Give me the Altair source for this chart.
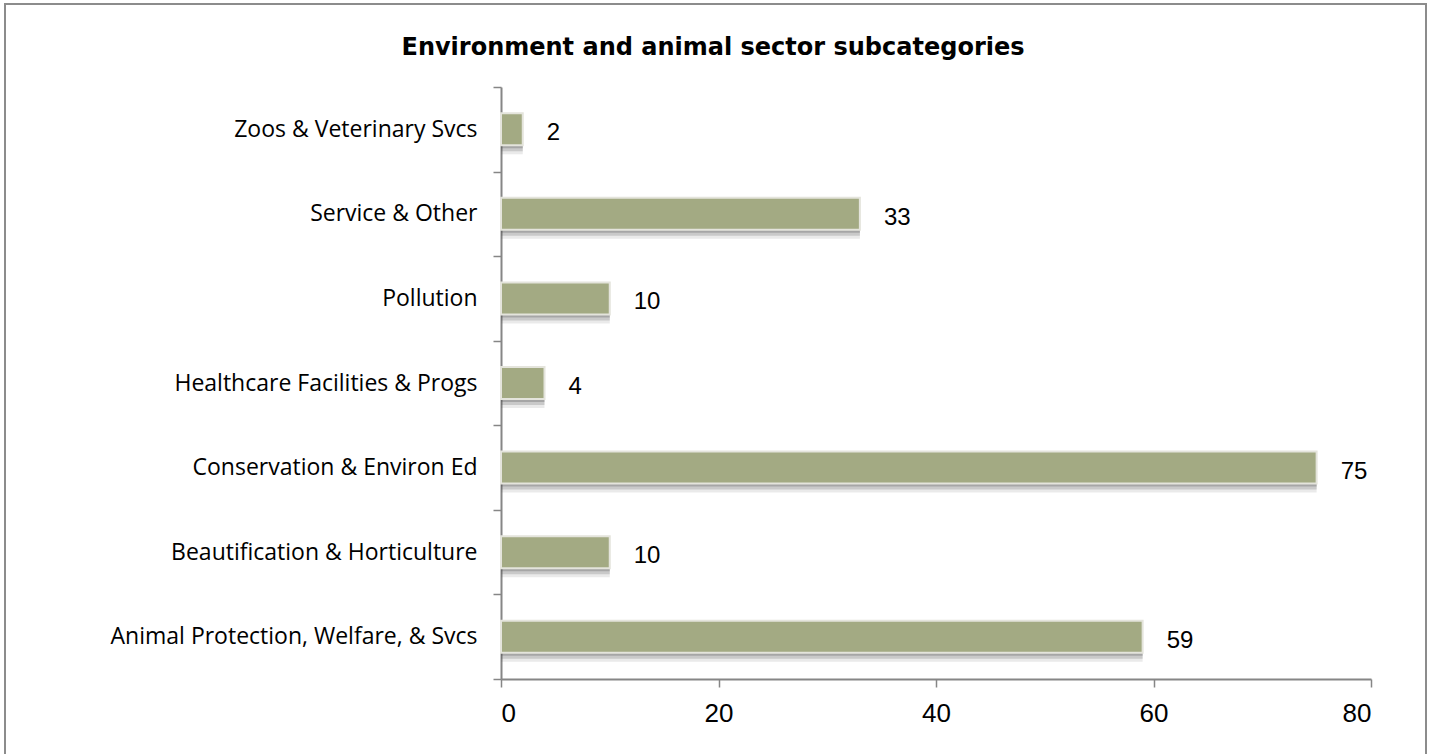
import altair as alt
import pandas as pd

categories = [
    "Zoos & Veterinary Svcs",
    "Service & Other",
    "Pollution",
    "Healthcare Facilities & Progs",
    "Conservation & Environ Ed",
    "Beautification & Horticulture",
    "Animal Protection, Welfare, & Svcs",
]
values = [2, 33, 10, 4, 75, 10, 59]
x_ticks = [0, 20, 40, 60, 80]
title_text = "Environment and animal sector subcategories"

df = pd.DataFrame({"category": categories, "value": values})

W, H = 870, 592
LEFT, TOP = 501, 87

y_enc = alt.Y(
    "category:N",
    sort=categories,
    scale=alt.Scale(paddingInner=0, paddingOuter=0),
    axis=alt.Axis(
        title=None,
        tickBand="extent",
        tickSize=8,
        tickColor="#868686",
        domainColor="#868686",
        domainWidth=2,
        tickWidth=1.5,
        labelPadding=16,
        labelFont="Open Sans",
        labelFontSize=23,
        labelColor="#000000",
        labelLimit=490,
    ),
)
x_enc = alt.X(
    "value:Q",
    scale=alt.Scale(domain=[0, 80], nice=False),
    axis=alt.Axis(
        title=None,
        values=x_ticks,
        grid=False,
        tickSize=8,
        tickColor="#868686",
        domainColor="#868686",
        domainWidth=2,
        tickWidth=1.5,
        labelPadding=13,
        labelFont="Liberation Sans",
        labelFontSize=26,
        labelColor="#000000",
    ),
)

base = alt.Chart(df)
y_plain = alt.Y("category:N", sort=categories)

shadow1 = base.mark_bar(size=32, color="#555555", opacity=0.12, yOffset=9, x2Offset=4).encode(
    x=x_enc, y=y_enc
)
shadow2 = base.mark_bar(size=32, color="#555555", opacity=0.22, yOffset=6, x2Offset=3).encode(
    x="value:Q", y=y_plain
)
shadow3 = base.mark_bar(size=32, color="#555555", opacity=0.3, yOffset=3, x2Offset=1).encode(
    x="value:Q", y=y_plain
)
bars = base.mark_bar(size=32, color="#A3AA83", stroke="#E4E4DC", strokeWidth=2).encode(
    x="value:Q", y=y_plain
)
labels = base.mark_text(
    align="left", baseline="middle", dx=24, dy=4,
    font="Liberation Sans", fontSize=24, color="#000000",
).encode(
    x="value:Q", y=y_plain, text="value:Q"
)

title = alt.Chart(pd.DataFrame({"t": [title_text]})).mark_text(
    font="DejaVu Sans", fontSize=24, fontWeight="bold", color="#000000",
    align="center", baseline="middle",
).encode(x=alt.value(713 - LEFT), y=alt.value(48 - TOP), text="t:N")

border = alt.Chart(pd.DataFrame({"a": [0]})).mark_rect(
    fill=None, stroke="#8C8C8C", strokeWidth=2
).encode(
    x=alt.value(5 - LEFT), x2=alt.value(1426 - LEFT),
    y=alt.value(4 - TOP), y2=alt.value(760 - TOP),
)

chart = alt.layer(border, shadow1, shadow2, shadow3, bars, labels, title).properties(
    width=W, height=H,
    autosize=alt.AutoSizeParams(type="none"),
    padding={"left": LEFT, "top": TOP, "right": 1430 - LEFT - W, "bottom": 754 - TOP - H},
    background="#FFFFFF",
).configure_view(stroke=None)

chart.save("out.html", embed_options={"renderer": "svg", "actions": False})
